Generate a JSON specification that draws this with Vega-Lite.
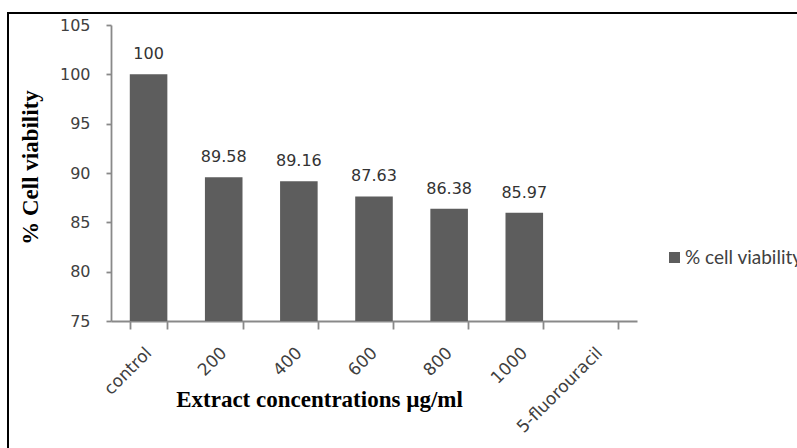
{
  "$schema": "https://vega.github.io/schema/vega-lite/v6.json",
  "width": 792,
  "height": 438,
  "autosize": {"type": "none"},
  "padding": {"left": 8, "top": 13, "right": -3, "bottom": -3},
  "background": "white",
  "view": {"stroke": "black", "strokeWidth": 2},
  "data": {
    "values": [
      {"conc": "control", "viability": 100, "series": "% cell viability"},
      {"conc": "200", "viability": 89.58, "series": "% cell viability"},
      {"conc": "400", "viability": 89.16, "series": "% cell viability"},
      {"conc": "600", "viability": 87.63, "series": "% cell viability"},
      {"conc": "800", "viability": 86.38, "series": "% cell viability"},
      {"conc": "1000", "viability": 85.97, "series": "% cell viability"},
      {"conc": "5-fluorouracil", "viability": null, "series": "% cell viability"}
    ]
  },
  "encoding": {
    "x": {
      "field": "conc",
      "type": "nominal",
      "sort": null,
      "scale": {
        "domain": ["control", "200", "400", "600", "800", "1000", "5-fluorouracil"],
        "range": [103, 629],
        "paddingInner": 0.5,
        "paddingOuter": 0.25
      },
      "axis": {
        "title": "Extract concentrations µg/ml",
        "offset": -130,
        "tickBand": "extent",
        "grid": false,
        "domainColor": "#898989",
        "domainWidth": 1.8,
        "tickColor": "#898989",
        "tickWidth": 1.8,
        "tickSize": 8,
        "labelAngle": -45,
        "labelAlign": "right",
        "labelBaseline": "middle",
        "labelPadding": 21,
        "labelFont": "DejaVu Sans",
        "labelFontSize": 17,
        "labelColor": "#404040",
        "titleFont": "Liberation Serif",
        "titleFontSize": 23,
        "titleFontWeight": "bold",
        "titleColor": "black",
        "titleX": 311,
        "titleY": 78,
        "titleAlign": "center",
        "titleBaseline": "middle"
      }
    },
    "y": {
      "field": "viability",
      "type": "quantitative",
      "scale": {"domain": [75, 105], "range": [308, 12], "nice": false, "zero": false},
      "axis": {
        "title": "% Cell viability",
        "values": [75, 80, 85, 90, 95, 100, 105],
        "offset": -103,
        "grid": false,
        "domainColor": "#898989",
        "domainWidth": 1.8,
        "tickColor": "#898989",
        "tickWidth": 1.8,
        "tickSize": 5,
        "labelPadding": 16,
        "labelFont": "DejaVu Sans",
        "labelFontSize": 16,
        "labelColor": "#404040",
        "titleFont": "Liberation Serif",
        "titleFontSize": 23,
        "titleFontWeight": "bold",
        "titleColor": "black",
        "titleAngle": -90,
        "titleX": -81,
        "titleY": 154,
        "titleAlign": "center",
        "titleBaseline": "middle"
      }
    }
  },
  "layer": [
    {
      "mark": {"type": "bar"},
      "encoding": {
        "y2": {"datum": 75},
        "color": {
          "field": "series",
          "type": "nominal",
          "scale": {"range": ["#5d5d5d"]},
          "legend": {
            "title": null,
            "orient": "none",
            "legendX": 657,
            "legendY": 235,
            "padding": 0,
            "symbolType": "square",
            "symbolSize": 121,
            "symbolStrokeWidth": 0,
            "labelFont": "Lato",
            "labelFontSize": 19,
            "labelColor": "#404040",
            "labelOffset": 1
          }
        }
      }
    },
    {
      "mark": {
        "type": "text",
        "baseline": "alphabetic",
        "dy": -15,
        "font": "DejaVu Sans",
        "fontSize": 16,
        "color": "#333333"
      },
      "encoding": {
        "text": {"field": "viability", "type": "quantitative", "format": ".4~g"}
      }
    }
  ]
}
